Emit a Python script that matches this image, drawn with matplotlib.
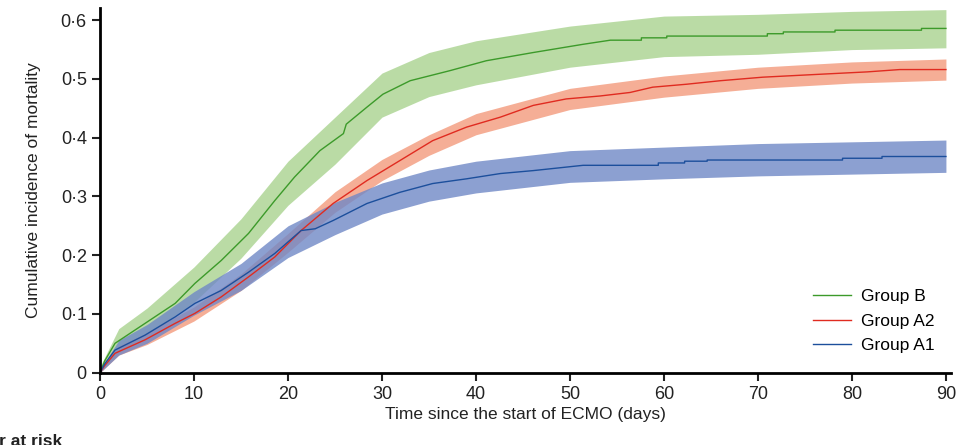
import numpy as np
import matplotlib.pyplot as plt

# curvas (dias, incidência acumulada)
t_b = [0, 0.5, 1.6, 4.8, 8.0, 10.1, 12.9, 15.8, 18.6, 20.7, 23.4, 25.9, 26.2, 28.4, 30.1,
       33.0, 37.2, 41.1, 46.1, 51.4, 54.3, 57.6, 57.6, 60.3, 60.3, 71.0, 71.0, 72.7, 72.7,
       78.2, 78.2, 87.4, 87.4, 90]
y_b = [0, 0.02, 0.05, 0.084, 0.118, 0.152, 0.191, 0.237, 0.293, 0.333, 0.378, 0.407, 0.423, 0.452, 0.474,
       0.497, 0.514, 0.531, 0.545, 0.559, 0.566, 0.566, 0.570, 0.570, 0.573, 0.573, 0.577, 0.577, 0.580,
       0.580, 0.583, 0.583, 0.586, 0.586]

t_a2 = [0, 0.5, 1.6, 4.8, 8.0, 10.1, 12.9, 15.8, 18.6, 21.4, 24.8, 28.4, 31.9, 35.4, 39.0,
        42.6, 46.1, 49.6, 53.2, 56.4, 58.8, 62.4, 66.0, 70.5, 76.6, 81.6, 85.1, 90]
y_a2 = [0, 0.012, 0.033, 0.056, 0.084, 0.101, 0.129, 0.163, 0.197, 0.242, 0.288, 0.327, 0.361, 0.395, 0.418,
        0.435, 0.455, 0.466, 0.471, 0.477, 0.486, 0.491, 0.497, 0.503, 0.508, 0.512, 0.516, 0.516]

t_a1 = [0, 0.5, 1.6, 4.8, 8.0, 10.1, 12.9, 15.8, 18.6, 21.4, 22.9, 24.8, 28.4, 31.9, 35.4,
        39.0, 42.6, 46.1, 51.4, 59.4, 59.4, 62.2, 62.2, 64.6, 64.6, 79.0, 79.0, 83.2, 83.2, 90]
y_a1 = [0, 0.015, 0.0385, 0.064, 0.095, 0.118, 0.140, 0.171, 0.203, 0.242, 0.245, 0.259, 0.288, 0.307, 0.322,
        0.330, 0.339, 0.344, 0.353, 0.353, 0.357, 0.357, 0.360, 0.360, 0.362, 0.362, 0.365, 0.365, 0.368, 0.368]

# intervalos de confiança (bordas lidas)
t_ic = [0, 2, 5, 10, 15, 20, 25, 30, 35, 40, 50, 60, 70, 80, 90]
b_lo = [0, 0.035, 0.065, 0.12, 0.195, 0.285, 0.355, 0.435, 0.47, 0.49, 0.52, 0.538, 0.542, 0.55, 0.553]
b_hi = [0.01, 0.075, 0.11, 0.18, 0.262, 0.36, 0.435, 0.51, 0.545, 0.565, 0.59, 0.607, 0.61, 0.615, 0.618]
a2_lo = [0, 0.03, 0.048, 0.088, 0.14, 0.205, 0.273, 0.327, 0.37, 0.405, 0.448, 0.469, 0.484, 0.493, 0.498]
a2_hi = [0.005, 0.046, 0.068, 0.112, 0.168, 0.237, 0.308, 0.363, 0.405, 0.441, 0.484, 0.505, 0.52, 0.529, 0.534]
a1_lo = [0, 0.03, 0.05, 0.098, 0.14, 0.196, 0.235, 0.27, 0.292, 0.306, 0.324, 0.33, 0.335, 0.338, 0.341]
a1_hi = [0.005, 0.055, 0.082, 0.138, 0.186, 0.25, 0.29, 0.323, 0.345, 0.36, 0.378, 0.384, 0.39, 0.393, 0.396]

fonte = ['Liberation Sans', 'DejaVu Sans']
plt.rcParams['font.family'] = fonte

fig = plt.figure(figsize=(9.65, 4.45), dpi=100)
ax = fig.add_axes([0.1036, 0.1625, 0.8815, 0.8185])

ax.fill_between(t_ic, b_lo, b_hi, color='#a9d38f', alpha=0.8, lw=0)
ax.fill_between(t_ic, a2_lo, a2_hi, color='#f39a7c', alpha=0.8, lw=0)
ax.fill_between(t_ic, a1_lo, a1_hi, color='#7088c6', alpha=0.8, lw=0)

ax.plot(t_b, y_b, color='#3c9a2a', lw=1.0, label='Group B')
ax.plot(t_a2, y_a2, color='#e02b20', lw=1.0, label='Group A2')
ax.plot(t_a1, y_a1, color='#1c4f9c', lw=1.0, label='Group A1')

ax.set_xlim(0, 90.5)
ax.set_ylim(0, 0.62)
ax.set_xticks(range(0, 91, 10))
yt = [0, 0.1, 0.2, 0.3, 0.4, 0.5, 0.6]
ax.set_yticks(yt)
ax.set_yticklabels(['0'] + [f'0·{int(round(v * 10))}' for v in yt[1:]])

for lado in ['top', 'right']:
    ax.spines[lado].set_visible(False)
for lado in ['left', 'bottom']:
    ax.spines[lado].set_linewidth(2.0)
ax.tick_params(width=1.5, length=6, labelsize=13, colors='#222222')

ax.set_ylabel('Cumulative incidence of mortality', fontsize=12.5, color='#222222', labelpad=14)
ax.set_xlabel('Time since the start of ECMO (days)', fontsize=12.5, color='#222222', labelpad=3)

ax.legend(loc='lower right', bbox_to_anchor=(1.0, 0.01), frameon=False, fontsize=12.5,
          handlelength=2.2, labelspacing=0.55, handletextpad=0.6)

fig.text(62 / 965, 1 - 434 / 445, 'Number at risk', ha='right', va='top',
         fontsize=12.5, fontweight='bold', color='#222222')

fig.savefig('out.png', dpi=100)
